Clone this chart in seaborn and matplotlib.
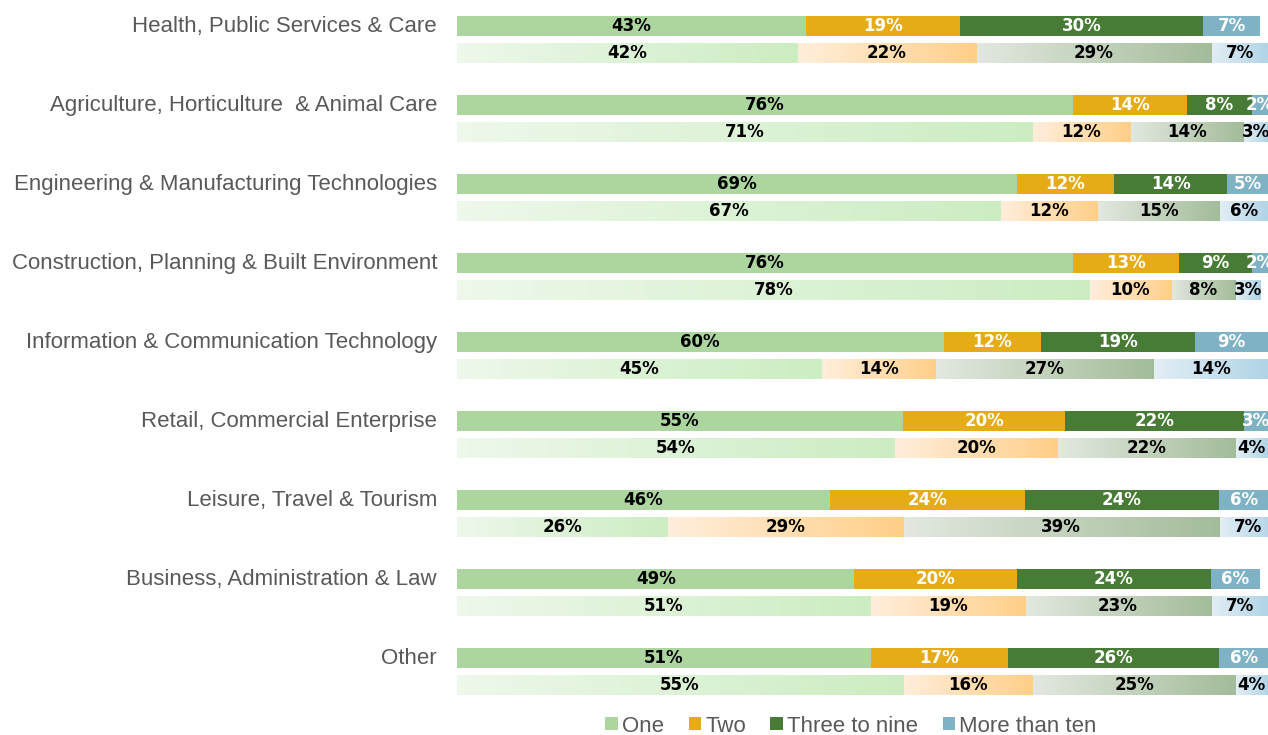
import numpy as np
import pandas as pd
import matplotlib
matplotlib.use('Agg')
import matplotlib.pyplot as plt
import seaborn as sns
from matplotlib.colors import LinearSegmentedColormap
from matplotlib.patches import Patch
from matplotlib.transforms import blended_transform_factory

# Categories and values (top bar = current, bottom bar = comparison)
categories = ['Health, Public Services & Care',
              'Agriculture, Horticulture  & Animal Care',
              'Engineering & Manufacturing Technologies',
              'Construction, Planning & Built Environment',
              'Information & Communication Technology',
              'Retail, Commercial Enterprise',
              'Leisure, Travel & Tourism',
              'Business, Administration & Law',
              'Other']
segments = ['One', 'Two', 'Three to nine', 'More than ten']

top_one = [43, 76, 69, 76, 60, 55, 46, 49, 51]
top_two = [19, 14, 12, 13, 12, 20, 24, 20, 17]
top_three = [30, 8, 14, 9, 19, 22, 24, 24, 26]
top_more = [7, 2, 5, 2, 9, 3, 6, 6, 6]

bottom_one = [42, 71, 67, 78, 45, 54, 26, 51, 55]
bottom_two = [22, 12, 12, 10, 14, 20, 29, 19, 16]
bottom_three = [29, 14, 15, 8, 27, 22, 39, 23, 25]
bottom_more = [7, 3, 6, 3, 14, 4, 7, 7, 4]

top_colors = ['#ADD5A0', '#E6AC18', '#487C36', '#7FB2C5']
top_text = ['black', 'white', 'white', 'white']
grad_colors = [('#EEF8EB', '#CCEDC2'), ('#FFEEDC', '#FFCF88'),
               ('#E3E8E0', '#A3BC99'), ('#E3EEF5', '#B0D4E6')]

# build long table with stacked positions
rows = []
for row, vals in [('top', [top_one, top_two, top_three, top_more]),
                  ('bottom', [bottom_one, bottom_two, bottom_three, bottom_more])]:
    for ci, cat in enumerate(categories):
        left = 0
        for k, seg in enumerate(segments):
            v = vals[k][ci]
            rows.append(dict(category=cat, row=row, seg=k, value=v, left=left, right=left + v))
            left += v
df = pd.DataFrame(rows)

fig = plt.figure(figsize=(12.68, 7.35), dpi=100)
ax = fig.add_axes([457 / 1268, 24 / 735, 811 / 1268, 711 / 735])

label_font = ['Liberation Sans Narrow', 'DejaVu Sans Condensed', 'DejaVu Sans']

# stacked bars: draw the cumulative totals from the last segment down
for k in reversed(range(4)):
    sub = df[df.seg == k]
    n_before = len(ax.patches)
    sns.barplot(data=sub, y='category', x='right', hue='row', hue_order=['top', 'bottom'],
                order=categories, orient='h',
                palette={'top': top_colors[k], 'bottom': grad_colors[k][1]},
                dodge=True, width=0.67, gap=0.25, saturation=1, linewidth=0,
                legend=False, errorbar=None, ax=ax)
    cmap = LinearSegmentedColormap.from_list('g%d' % k, grad_colors[k])
    for p in ax.patches[n_before:]:
        yc = p.get_y() + p.get_height() / 2
        ci = int(round(yc))
        is_bottom = yc > ci
        r = sub[(sub.category == categories[ci]) & (sub.row == ('bottom' if is_bottom else 'top'))].iloc[0]
        if is_bottom:
            ax.imshow(np.linspace(0, 1, 256).reshape(1, -1), cmap=cmap, aspect='auto',
                      extent=(r.left, r.right, p.get_y(), p.get_y() + p.get_height()),
                      zorder=3, interpolation='bilinear')
        ax.text((r.left + r.right) / 2, yc, '%d%%' % r.value, ha='center', va='center',
                fontsize=12, fontweight='bold', family=label_font, zorder=5,
                color='black' if is_bottom else top_text[k])

ax.set_xlim(0, 100)
ax.set_ylim(8.5, -0.5)
ax.set_xticks([])
ax.set_yticks([])
ax.set_xlabel('')
ax.set_ylabel('')
for s in ax.spines.values():
    s.set_visible(False)

trans = blended_transform_factory(ax.transAxes, ax.transData)
for ci, cat in enumerate(categories):
    ax.text(-20 / 811, ci - 0.1675, cat, transform=trans, ha='right', va='center',
            fontsize=16, color='#595959', family=['Liberation Sans', 'DejaVu Sans'])

handles = [Patch(facecolor=c, edgecolor='none') for c in top_colors]
fig.legend(handles, segments, loc='center', bbox_to_anchor=(851 / 1268, 1 - 726 / 735),
           ncol=4, frameon=False, handlelength=0.55, handleheight=0.55, handletextpad=0.2,
           columnspacing=1.1, borderaxespad=0,
           prop={'family': ['Liberation Sans', 'DejaVu Sans'], 'size': 16}, labelcolor='#595959')

fig.savefig('out.png', dpi=100)
